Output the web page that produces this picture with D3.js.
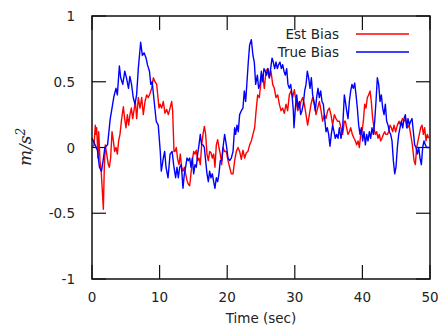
<!doctype html>
<html>
<head>
<style>
  body { margin: 0; background: #fff; }
  text { font-family: "DejaVu Sans", sans-serif; fill: #222; }
</style>
<script src="https://d3js.org/d3.v7.min.js"></script>
</head>
<body>
<svg width="438" height="335"></svg>
<script>
// time stamps (sec) and values (m/s^2)
var estT = [0,0.3,0.49,0.59,0.69,0.89,0.99,1.08,1.18,1.38,1.53,1.68,1.82,1.97,2.17,2.42,2.56,2.76,2.96,3.16,3.35,3.55,3.75,3.94,4.14,4.39,4.64,4.83,5.03,5.23,5.42,5.62,5.82,6.02,6.21,6.41,6.61,6.85,7.1,7.35,7.59,7.84,8.09,8.33,8.58,8.83,9.07,9.32,9.57,9.76,9.91,10.06,10.31,10.55,10.8,11.05,11.29,11.54,11.79,11.93,12.13,12.28,12.47,12.67,12.87,13.06,13.26,13.46,13.66,13.85,14.05,14.25,14.45,14.64,14.84,15.04,15.24,15.43,15.63,15.83,16.02,16.22,16.42,16.62,16.81,17.01,17.21,17.4,17.6,17.8,18.0,18.19,18.39,18.59,18.78,18.98,19.18,19.38,19.62,19.87,20.12,20.36,20.61,20.86,21.1,21.35,21.6,21.84,22.09,22.33,22.58,22.83,23.07,23.32,23.57,23.81,24.06,24.31,24.51,24.75,25.0,25.25,25.49,25.74,25.99,26.23,26.48,26.73,26.97,27.22,27.47,27.71,27.96,28.2,28.45,28.7,28.94,29.19,29.44,29.68,29.93,30.18,30.42,30.67,30.92,31.16,31.41,31.66,31.9,32.15,32.4,32.64,32.89,33.14,33.38,33.63,33.88,34.12,34.37,34.62,34.86,35.11,35.35,35.6,35.85,36.09,36.34,36.59,36.83,37.08,37.33,37.48,37.67,37.87,38.07,38.27,38.51,38.76,38.96,39.15,39.35,39.55,39.75,39.94,40.14,40.34,40.53,40.73,40.93,41.13,41.32,41.52,41.72,41.91,42.11,42.31,42.51,42.7,42.9,43.1,43.3,43.49,43.69,43.89,44.08,44.28,44.48,44.68,44.92,45.17,45.42,45.66,45.91,46.16,46.4,46.65,46.9,47.14,47.39,47.64,47.83,48.03,48.23,48.42,48.62,48.82,49.02,49.21,49.41,49.6,49.8];
var estV = [0,0.02,0.17,0.10,0.15,-0.08,0.12,0.02,-0.10,-0.20,-0.33,-0.47,-0.15,0.02,-0.05,-0.13,-0.15,-0.08,0.12,0.05,-0.03,0,-0.05,0.05,0.10,0.22,0.31,0.22,0.15,0.25,0.17,0.25,0.30,0.22,0.28,0.35,0.22,0.38,0.30,0.38,0.25,0.35,0.40,0.38,0.41,0.45,0.53,0.50,0.48,0.38,0.30,0.33,0.30,0.35,0.26,0.29,0.25,0.30,0.35,0.28,-0.03,-0.03,0,-0.09,-0.13,-0.05,-0.15,-0.18,-0.15,-0.20,-0.25,-0.28,-0.29,-0.20,-0.10,-0.03,-0.05,-0.02,-0.10,-0.08,-0.13,0.02,0.10,0.16,0.10,-0.05,-0.10,-0.03,-0.04,-0.08,-0.05,-0.15,0.02,0.06,0,-0.05,-0.13,0,-0.03,-0.03,-0.10,-0.15,-0.20,-0.20,-0.10,-0.03,0,-0.03,-0.09,-0.02,-0.08,-0.04,-0.03,0.02,0.05,0.10,0.15,0.30,0.40,0.38,0.50,0.55,0.45,0.58,0.60,0.53,0.58,0.48,0.45,0.38,0.40,0.33,0.28,0.30,0.26,0.33,0.28,0.40,0.43,0.38,0.44,0.35,0.28,0.30,0.35,0.38,0.33,0.25,0.17,0.25,0.33,0.38,0.33,0.25,0.30,0.35,0.28,0.20,0.25,0.22,0.28,0.30,0.25,0.17,0.25,0.22,0.20,0.20,0.15,0.10,0.20,0.20,0.15,0.10,0.12,0.15,0.10,0.07,0.05,0.02,0.05,0,0.10,0.12,0.20,0.33,0.30,0.38,0.40,0.43,0.35,0.22,0.15,0.10,0.12,0.07,0.10,0.05,0.07,0.10,0.12,0.10,0.10,0.12,0.17,0.15,0.12,0.17,0.12,0.17,0.20,0.17,0.22,0.20,0.22,0.15,0.17,0.10,0.02,-0.10,-0.13,0,0.05,0.10,0.15,0.17,0.10,0.15,0.05,0.10,0.07];

var trueT = [0,0.1,0.45,0.8,1.1,1.4,1.7,1.9,2.3,2.7,2.9,3.25,3.55,3.75,4.05,4.25,4.55,4.85,5.1,5.4,5.6,5.85,6.1,6.35,6.6,6.85,7.2,7.45,7.7,8.0,8.2,8.5,8.7,8.9,9.2,9.5,9.8,10.1,10.25,10.55,10.75,10.95,11.25,11.55,11.85,12.1,12.37,12.57,12.77,12.97,13.21,13.46,13.66,13.85,14.05,14.25,14.45,14.64,14.84,15.04,15.24,15.43,15.63,15.83,16.02,16.22,16.42,16.62,16.81,17.01,17.21,17.4,17.6,17.8,18.0,18.19,18.39,18.59,18.78,18.98,19.18,19.38,19.62,19.87,20.12,20.36,20.61,20.86,21.1,21.25,21.45,21.64,21.84,22.09,22.33,22.53,22.73,22.93,23.12,23.32,23.57,23.81,24.01,24.21,24.46,24.65,24.85,25.05,25.25,25.44,25.64,25.84,26.03,26.23,26.43,26.63,26.82,27.02,27.22,27.42,27.61,27.81,28.01,28.2,28.4,28.6,28.8,28.99,29.19,29.39,29.59,29.78,29.88,30.08,30.28,30.47,30.67,30.87,31.06,31.26,31.46,31.66,31.85,32.05,32.25,32.45,32.64,32.84,33.04,33.23,33.43,33.63,33.83,34.02,34.22,34.42,34.62,34.81,35.01,35.2,35.4,35.6,35.8,35.99,36.19,36.39,36.59,36.83,37.08,37.33,37.48,37.67,37.87,38.07,38.27,38.46,38.66,38.86,39.06,39.25,39.45,39.65,39.84,40.04,40.24,40.44,40.63,40.83,41.03,41.22,41.42,41.62,41.82,42.01,42.21,42.41,42.61,42.8,43.0,43.2,43.39,43.59,43.79,43.99,44.18,44.38,44.58,44.78,44.97,45.17,45.37,45.56,45.76,45.96,46.16,46.35,46.55,46.75,46.94,47.14,47.34,47.54,47.73,47.93,48.13,48.33,48.52,48.72,48.92,49.11,49.31,49.51,49.71,49.9];
var trueV = [0.07,0.06,0.02,-0.02,-0.15,-0.18,-0.08,0,0.02,0.22,0.28,0.39,0.45,0.40,0.62,0.53,0.48,0.58,0.53,0.45,0.54,0.48,0.38,0.33,0.40,0.60,0.80,0.70,0.72,0.68,0.63,0.58,0.48,0.50,0.35,0.20,0.17,-0.03,-0.18,-0.08,-0.03,-0.15,-0.23,-0.05,-0.03,-0.14,-0.23,-0.15,-0.23,-0.15,-0.13,-0.31,-0.20,-0.15,-0.08,-0.10,-0.08,-0.15,-0.08,-0.20,-0.13,-0.15,-0.05,0.02,0.10,0.02,0.02,0,-0.10,-0.20,-0.26,-0.18,-0.23,-0.20,-0.26,-0.31,-0.23,-0.26,-0.20,-0.10,-0.10,0,0.10,0.02,-0.08,-0.10,-0.08,-0.03,0.15,0.10,0.17,0.12,0.25,0.28,0.30,0.43,0.35,0.50,0.65,0.78,0.82,0.70,0.65,0.48,0.55,0.45,0.48,0.58,0.50,0.60,0.58,0.55,0.60,0.53,0.60,0.68,0.65,0.60,0.65,0.60,0.63,0.65,0.60,0.63,0.58,0.55,0.60,0.48,0.45,0.48,0.40,0.28,0.15,0.30,0.40,0.30,0.35,0.25,0.28,0.33,0.43,0.48,0.58,0.53,0.45,0.53,0.40,0.35,0.28,0.38,0.45,0.38,0.43,0.35,0.33,0.22,0.12,0.15,0.10,0.01,0.10,0.17,0.12,0.07,0.10,0.07,0.15,0.07,0.15,0.40,0.35,0.28,0.22,0.35,0.43,0.48,0.45,0.49,0.40,0.30,0.17,0.10,0.15,0.05,0.12,0.02,0.10,0.05,0.12,0.07,0.15,0.10,0.20,0.35,0.53,0.48,0.35,0.40,0.30,0.25,0.33,0.20,0.17,0.12,0.10,0.05,-0.10,-0.20,-0.15,0,0.10,0.15,0.20,0.15,0.22,0.25,0.15,0.22,0.17,0.20,0.22,0.12,0.02,0,-0.05,0,-0.08,-0.13,0,0.05,0.02,0,0,0];

var xTicks = [0, 10, 20, 30, 40, 50];
var yTicks = [-1, -0.5, 0, 0.5, 1];
var seriesNames = ["Est Bias", "True Bias"];
var seriesColors = ["#ff0000", "#0000ff"];

var svg = d3.select("svg");
var pLeft = 92, pRight = 430, pTop = 16, pBottom = 279;

var x = d3.scaleLinear().domain([0, 50]).range([pLeft, pRight]);
var y = d3.scaleLinear().domain([-1, 1]).range([pBottom, pTop]);

var tickLen = 14;

// inward ticks on all four sides
var ticks = svg.append("g").attr("stroke", "#111").attr("stroke-width", 1.2);
xTicks.forEach(function(t) {
  ticks.append("line").attr("x1", x(t)).attr("x2", x(t)).attr("y1", pBottom).attr("y2", pBottom - tickLen);
  ticks.append("line").attr("x1", x(t)).attr("x2", x(t)).attr("y1", pTop).attr("y2", pTop + tickLen);
});
yTicks.forEach(function(t) {
  ticks.append("line").attr("x1", pLeft).attr("x2", pLeft + tickLen).attr("y1", y(t)).attr("y2", y(t));
  ticks.append("line").attr("x1", pRight).attr("x2", pRight - tickLen).attr("y1", y(t)).attr("y2", y(t));
});

// tick labels
svg.append("g").selectAll("text").data(xTicks).enter().append("text")
  .attr("x", function(d) { return x(d); })
  .attr("y", 302)
  .attr("text-anchor", "middle")
  .attr("font-size", "13.5px")
  .text(function(d) { return d; });

svg.append("g").selectAll("text").data(yTicks).enter().append("text")
  .attr("x", 75)
  .attr("y", function(d) { return y(d) + 5; })
  .attr("text-anchor", "end")
  .attr("font-size", "13.5px")
  .text(function(d) { return d; });

// axis titles
svg.append("text")
  .attr("x", (pLeft + pRight) / 2)
  .attr("y", 323)
  .attr("text-anchor", "middle")
  .attr("font-size", "13.5px")
  .text("Time (sec)");

var yl = svg.append("text")
  .attr("transform", "translate(31,147) rotate(-90)")
  .attr("text-anchor", "middle")
  .style("font-family", "'DejaVu Serif', serif")
  .style("font-style", "italic")
  .attr("font-size", "17px");
yl.append("tspan").text("m/s");
yl.append("tspan").attr("dy", -6).attr("font-size", "12px").text("2");

// data lines
var line = d3.line()
  .x(function(d) { return x(d[0]); })
  .y(function(d) { return y(d[1]); });

var plot = svg.append("g");
plot.append("path")
  .datum(d3.zip(estT, estV))
  .attr("fill", "none")
  .attr("stroke", seriesColors[0])
  .attr("stroke-width", 1.4)
  .attr("stroke-linejoin", "round")
  .attr("d", line);
plot.append("path")
  .datum(d3.zip(trueT, trueV))
  .attr("fill", "none")
  .attr("stroke", seriesColors[1])
  .attr("stroke-width", 1.4)
  .attr("stroke-linejoin", "round")
  .attr("d", line);

// frame
svg.append("rect")
  .attr("x", pLeft).attr("y", pTop)
  .attr("width", pRight - pLeft).attr("height", pBottom - pTop)
  .attr("fill", "none")
  .attr("stroke", "#111")
  .attr("stroke-width", 1.5);

// legend
var legend = svg.append("g");
seriesNames.forEach(function(name, i) {
  var ly = 34 + i * 18;
  legend.append("text")
    .attr("x", 339)
    .attr("y", ly + 5)
    .attr("text-anchor", "end")
    .attr("font-size", "13.5px")
    .text(name);
  legend.append("line")
    .attr("x1", 356).attr("x2", 409)
    .attr("y1", ly).attr("y2", ly)
    .attr("stroke", seriesColors[i])
    .attr("stroke-width", 1.4);
});
</script>
</body>
</html>
